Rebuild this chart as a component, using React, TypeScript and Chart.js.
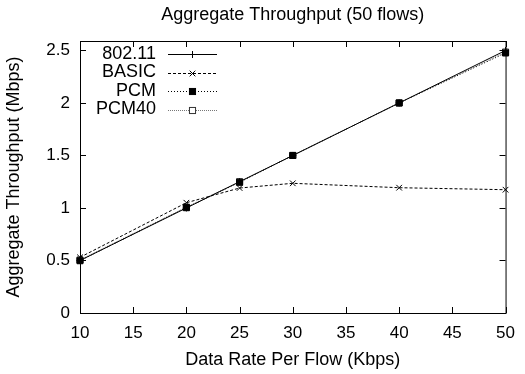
import React, { useEffect, useRef } from "react";
import { Chart, registerables } from "chart.js";

Chart.register(...registerables);

const title = "Aggregate Throughput (50 flows)";
const xTitle = "Data Rate Per Flow (Kbps)";
const yTitle = "Aggregate Throughput (Mbps)";
const rates = [10, 20, 25, 30, 40, 50];
const s80211 = [0.5, 1.0, 1.25, 1.5, 2.0, 2.5];
const sBasic = [0.53, 1.05, 1.19, 1.235, 1.193, 1.174];
const sPcm = [0.498, 1.003, 1.245, 1.5, 2.0, 2.476];
const sPcm40 = [0.505, 1.008, 1.25, 1.5, 2.0, 2.485];
const xTicks = [10, 15, 20, 25, 30, 35, 40, 45, 50];
const yTicks = [0, 0.5, 1, 1.5, 2, 2.5];
const seriesNames = ["802.11", "BASIC", "PCM", "PCM40"];

const FONT = "'Liberation Sans', Arial, Helvetica, sans-serif";

const framePlugin = {
  id: "frame",
  afterDraw(chart: any) {
    const ctx = chart.ctx;
    const { left, right, top, bottom } = chart.chartArea;
    const xs = chart.scales.x;
    const ys = chart.scales.y;
    ctx.save();
    ctx.strokeStyle = "#000";
    ctx.lineWidth = 1;
    ctx.setLineDash([]);
    ctx.strokeRect(left + 0.5, top + 0.5, right - left, bottom - top);
    const tl = 6;
    ctx.beginPath();
    xTicks.forEach((v) => {
      const px = Math.round(xs.getPixelForValue(v)) + 0.5;
      ctx.moveTo(px, bottom);
      ctx.lineTo(px, bottom - tl);
      ctx.moveTo(px, top);
      ctx.lineTo(px, top + tl);
    });
    yTicks.forEach((v) => {
      const py = Math.round(ys.getPixelForValue(v)) + 0.5;
      ctx.moveTo(left, py);
      ctx.lineTo(left + tl, py);
      ctx.moveTo(right, py);
      ctx.lineTo(right - tl, py);
    });
    ctx.stroke();

    // title
    ctx.fillStyle = "#000";
    ctx.font = `18px ${FONT}`;
    ctx.textAlign = "center";
    ctx.textBaseline = "middle";
    ctx.fillText(title, (left + right) / 2, 15);

    // legend
    const lx = left + 76;
    const sx0 = left + 88;
    const sx1 = left + 137;
    ctx.font = `18px ${FONT}`;
    chart.data.datasets.forEach((ds: any, i: number) => {
      const y = top + 13 + i * 18.5;
      ctx.textAlign = "right";
      ctx.fillStyle = "#000";
      ctx.fillText(ds.label, lx, y);
      ctx.save();
      ctx.strokeStyle = ds.borderColor;
      ctx.lineWidth = ds.borderWidth;
      ctx.setLineDash(ds.borderDash || []);
      ctx.beginPath();
      ctx.moveTo(sx0, Math.round(y) + 0.5);
      ctx.lineTo(sx1, Math.round(y) + 0.5);
      ctx.stroke();
      ctx.restore();
      ctx.save();
      ctx.setLineDash([]);
      ctx.strokeStyle = ds.pointBorderColor;
      ctx.fillStyle = ds.pointBackgroundColor;
      ctx.lineWidth = 1;
      const mx = (sx0 + sx1) / 2;
      const my = Math.round(y) + 0.5;
      if (ds.pointStyle === "rect") {
        const h = ds.pointRadius * Math.SQRT1_2;
        ctx.fillRect(mx - h, my - h, 2 * h, 2 * h);
        ctx.strokeRect(mx - h, my - h, 2 * h, 2 * h);
      } else if (ds.pointStyle === "cross") {
        const r = ds.pointRadius;
        ctx.beginPath();
        ctx.moveTo(mx - r, my);
        ctx.lineTo(mx + r, my);
        ctx.moveTo(mx, my - r);
        ctx.lineTo(mx, my + r);
        ctx.stroke();
      } else {
        const h = ds.pointRadius * Math.SQRT1_2;
        ctx.beginPath();
        ctx.moveTo(mx - h, my - h);
        ctx.lineTo(mx + h, my + h);
        ctx.moveTo(mx + h, my - h);
        ctx.lineTo(mx - h, my + h);
        ctx.stroke();
      }
      ctx.restore();
    });
    ctx.restore();
  },
};

export default function App() {
  const ref = useRef<HTMLCanvasElement | null>(null);
  useEffect(() => {
    document.body.style.margin = "0";
    const mk = (vals: number[]) => rates.map((x, i) => ({ x, y: vals[i] }));
    const chart = new Chart(ref.current!, {
      type: "line",
      data: {
        datasets: [
          {
            label: seriesNames[0],
            data: mk(s80211),
            borderColor: "#000",
            borderWidth: 1,
            pointStyle: "cross",
            pointRadius: 3.5,
            pointBorderColor: "#000",
            pointBackgroundColor: "#000",
            pointBorderWidth: 1,
          },
          {
            label: seriesNames[1],
            data: mk(sBasic),
            borderColor: "#000",
            borderWidth: 1,
            borderDash: [3, 2],
            pointStyle: "crossRot",
            pointRadius: 4,
            pointBorderColor: "#000",
            pointBackgroundColor: "#000",
            pointBorderWidth: 1,
          },
          {
            label: seriesNames[2],
            data: mk(sPcm),
            borderColor: "#000",
            borderWidth: 1,
            borderDash: [1, 2],
            pointStyle: "rect",
            pointRadius: 4.3,
            pointBorderColor: "#000",
            pointBackgroundColor: "#000",
            pointBorderWidth: 1,
          },
          {
            label: seriesNames[3],
            data: mk(sPcm40),
            borderColor: "#777",
            borderWidth: 1,
            borderDash: [1, 1],
            pointStyle: "rect",
            pointRadius: 4.3,
            pointBorderColor: "#333",
            pointBackgroundColor: "#fff",
            pointBorderWidth: 1,
          },
        ],
      },
      options: {
        responsive: false,
        animation: false,
        clip: false as any,
        layout: { padding: { top: 41, right: 11, left: 0, bottom: 0 } },
        plugins: { legend: { display: false }, tooltip: { enabled: false } },
        scales: {
          x: {
            type: "linear",
            min: 10,
            max: 50,
            afterFit: (s: any) => {
              s.height = 61;
            },
            afterBuildTicks: (s: any) => {
              s.ticks = xTicks.map((v) => ({ value: v }));
            },
            grid: { display: false, drawTicks: false },
            border: { display: false },
            ticks: {
              padding: 10,
              color: "#000",
              font: { family: FONT, size: 17 },
              callback: (v: any) => String(v),
              maxRotation: 0,
            },
            title: {
              display: true,
              text: xTitle,
              color: "#000",
              font: { family: FONT, size: 18 },
              padding: { top: 0, bottom: 3 },
            },
          },
          y: {
            type: "linear",
            min: 0,
            max: 2.59,
            afterFit: (s: any) => {
              s.width = 80;
            },
            afterBuildTicks: (s: any) => {
              s.ticks = yTicks.map((v) => ({ value: v }));
            },
            grid: { display: false, drawTicks: false },
            border: { display: false },
            ticks: {
              padding: 10,
              color: "#000",
              font: { family: FONT, size: 17 },
              callback: (v: any) => String(v),
            },
            title: {
              display: true,
              text: yTitle,
              color: "#000",
              font: { family: FONT, size: 18 },
              padding: { top: 3, bottom: 0 },
            },
          },
        },
      },
      plugins: [framePlugin],
    });
    return () => chart.destroy();
  }, []);
  return (
    <div style={{ width: 525, height: 374 }}>
      <canvas ref={ref} width={525} height={374} style={{ display: "block" }} />
    </div>
  );
}
